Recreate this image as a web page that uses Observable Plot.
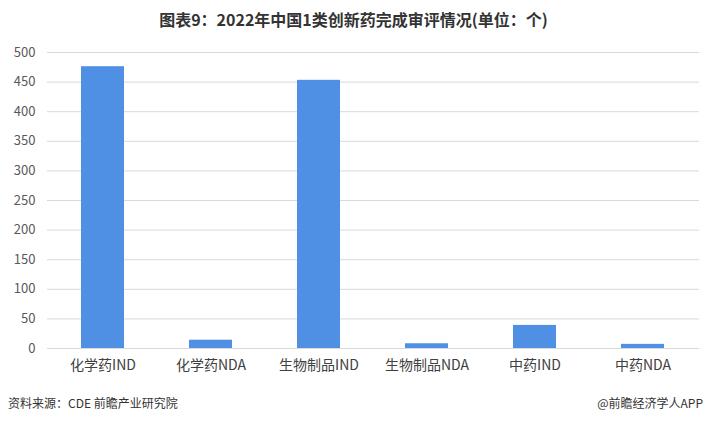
<!DOCTYPE html>
<html><head><meta charset="utf-8">
<script src="https://cdn.jsdelivr.net/npm/d3@7"></script>
<script src="https://cdn.jsdelivr.net/npm/@observablehq/plot@0.6"></script>
<style>
body{margin:0;background:#fff;font-family:"Noto Sans CJK SC","Noto Sans",sans-serif;}
#wrap{width:707px;height:423px;position:relative;overflow:hidden;}
#title{position:absolute;top:7px;left:0;width:707px;text-align:center;font-size:16px;font-weight:bold;color:#333;}
#chart{position:absolute;top:40px;left:0;}
#src{position:absolute;top:394px;left:8px;font-size:12px;color:#333;}
#app{position:absolute;top:394px;right:4px;font-size:12px;color:#333;}
</style></head>
<body><div id="wrap">
<div id="title">图表9：2022年中国1类创新药完成审评情况(单位：个)</div>
<div id="chart"></div>
<div id="src">资料来源：CDE 前瞻产业研究院</div>
<div id="app">@前瞻经济学人APP</div>
</div>
<script>
const categories = ["化学药IND","化学药NDA","生物制品IND","生物制品NDA","中药IND","中药NDA"];
const values = [476, 14, 453, 8, 39, 7];
const yTicks = [0,50,100,150,200,250,300,350,400,450,500];
const data = categories.map((c,i)=>({cat:c, v:values[i]}));
const chart = Plot.plot({
  width: 707, height: 345,
  marginTop: 12, marginBottom: 37, marginLeft: 47, marginRight: 8,
  style: {fontFamily: '"Noto Sans CJK SC","Noto Sans",sans-serif', fontSize: "13px", color: "#595959", background: "#fff"},
  x: {domain: categories, paddingInner: 0.6, paddingOuter: 0.3, label: null},
  y: {domain: [0, 500], ticks: yTicks, label: null},
  marks: [
    Plot.gridY(yTicks, {stroke: "#d9d9d9", strokeOpacity: 1}),
    Plot.barY(data, {x: "cat", y: "v", fill: "#5090e4"}),
    Plot.axisY({ticks: yTicks, tickSize: 0, tickPadding: 12, fontSize: 13, fill: "#595959"}),
    Plot.axisX({tickSize: 0, tickPadding: 12, fontSize: 14, fill: "#404040"})
  ]
});
document.getElementById("chart").appendChild(chart);
</script>
</body></html>
